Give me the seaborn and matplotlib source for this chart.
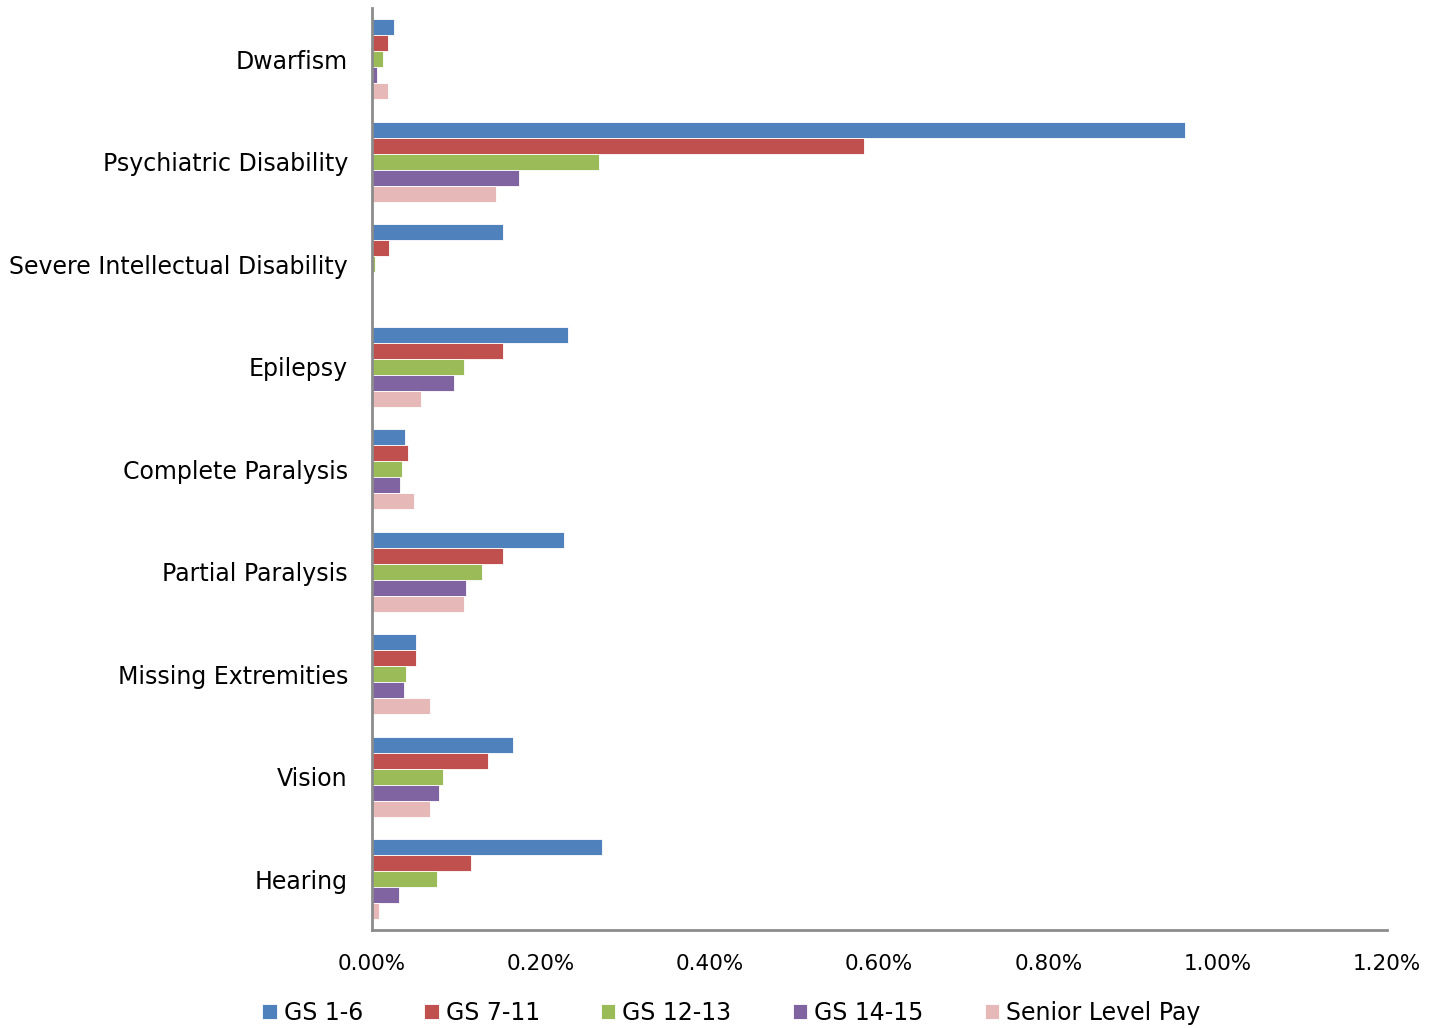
import pandas as pd
import matplotlib
matplotlib.use('Agg')
import matplotlib.pyplot as plt
from matplotlib.ticker import FuncFormatter
import seaborn as sns

# --- data (percent) ---
categories = ["Dwarfism", "Psychiatric Disability", "Severe Intellectual Disability",
              "Epilepsy", "Complete Paralysis", "Partial Paralysis",
              "Missing Extremities", "Vision", "Hearing"]
series = ["GS 1-6", "GS 7-11", "GS 12-13", "GS 14-15", "Senior Level Pay"]

gs_1_6 = [0.027, 0.962, 0.155, 0.232, 0.039, 0.228, 0.053, 0.167, 0.273]
gs_7_11 = [0.019, 0.582, 0.021, 0.155, 0.043, 0.155, 0.052, 0.138, 0.117]
gs_12_13 = [0.013, 0.269, 0.004, 0.109, 0.036, 0.131, 0.041, 0.085, 0.077]
gs_14_15 = [0.007, 0.174, 0.0, 0.098, 0.034, 0.112, 0.038, 0.080, 0.033]
senior = [0.020, 0.147, 0.0, 0.059, 0.050, 0.109, 0.069, 0.069, 0.009]

colors = ["#4F81BD", "#C0504D", "#9BBB59", "#8064A2", "#E6B9B8"]

rows = []
for name, vals in zip(series, [gs_1_6, gs_7_11, gs_12_13, gs_14_15, senior]):
    for cat, v in zip(categories, vals):
        rows.append({"category": cat, "grade": name, "value": v})
df = pd.DataFrame(rows)

sns.set_theme(style="white")
plt.rcParams['font.family'] = ['DejaVu Sans']
plt.rcParams['text.color'] = 'black'
plt.rcParams['xtick.color'] = 'black'
plt.rcParams['ytick.color'] = 'black'

fig = plt.figure(figsize=(14.4, 10.28), dpi=100)
ax = fig.add_axes([0.258, 0.095, 0.705, 0.897])

sns.barplot(data=df, x="value", y="category", hue="grade", order=categories,
            hue_order=series, palette=colors, width=0.78, orient="h",
            saturation=1, edgecolor="white", linewidth=0.6, ax=ax)

ax.set_xlim(0, 1.2)
ax.set_xticks([0, 0.2, 0.4, 0.6, 0.8, 1.0, 1.2])
ax.xaxis.set_major_formatter(FuncFormatter(lambda v, p: f"{v:.2f}%"))
ax.set_xlabel("")
ax.set_ylabel("")
ax.tick_params(axis='x', labelsize=15.5, pad=17, length=0, labelcolor='black')
ax.tick_params(axis='y', labelsize=17, pad=17, length=0, labelcolor='black')

for side in ["top", "right"]:
    ax.spines[side].set_visible(False)
for side in ["left", "bottom"]:
    ax.spines[side].set_color("#8c8c8c")
    ax.spines[side].set_linewidth(2)

ax.get_legend().remove()
handles, labels = ax.get_legend_handles_labels()
fig.legend(handles, labels, loc="lower center", bbox_to_anchor=(0.508, -0.018),
           ncol=5, frameon=False, fontsize=17, handlelength=0.6, handleheight=0.6,
           handletextpad=0.3, columnspacing=2.6)

plt.savefig("out.png", dpi=100)
plt.close()
